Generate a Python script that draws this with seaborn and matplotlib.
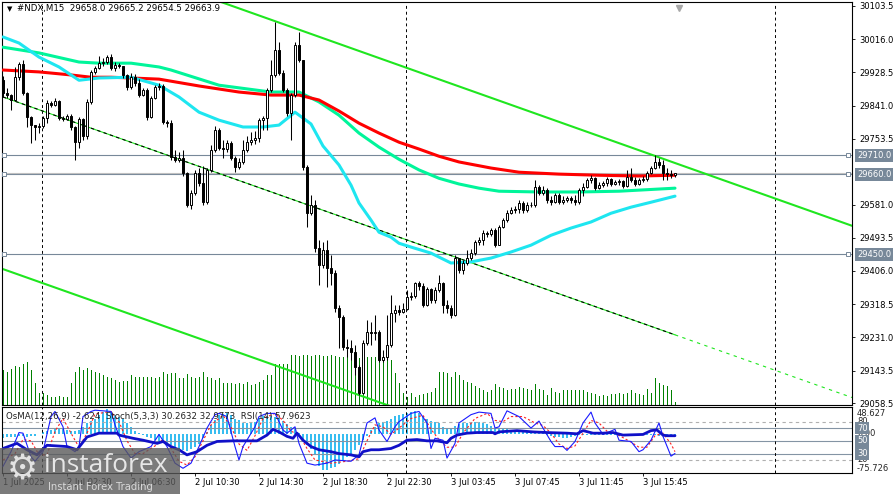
import matplotlib
matplotlib.use("Agg")
import matplotlib.pyplot as plt
import matplotlib.transforms as mtransforms
from matplotlib.patches import Rectangle
import numpy as np
import seaborn as sns

# ---------------- data ----------------
first_open = 29908.0
close = [29874, 29869, 29856, 29916, 29951, 29874, 29811, 29790, 29785, 29787,
         29808, 29848, 29843, 29853, 29808, 29806, 29814, 29785, 29745, 29806,
         29761, 29851, 29930, 29940, 29953, 29956, 29969, 29940, 29948, 29945,
         29922, 29890, 29916, 29900, 29869, 29882, 29811, 29861, 29890, 29893,
         29798, 29795, 29706, 29698, 29703, 29664, 29579, 29611, 29664, 29637,
         29587, 29672, 29724, 29777, 29729, 29727, 29743, 29703, 29679, 29693,
         29724, 29745, 29750, 29756, 29803, 29808, 29882, 29922, 29987, 29927,
         29882, 29822, 29869, 30001, 29961, 29679, 29558, 29579, 29466, 29422,
         29461, 29414, 29400, 29308, 29285, 29206, 29204, 29193, 29153, 29085,
         29216, 29245, 29243, 29245, 29172, 29179, 29211, 29295, 29303, 29298,
         29306, 29337, 29340, 29374, 29366, 29316, 29358, 29329, 29356, 29374,
         29316, 29308, 29290, 29440, 29408, 29427, 29440, 29453, 29482, 29487,
         29506, 29503, 29514, 29474, 29522, 29540, 29558, 29566, 29568, 29585,
         29566, 29579, 29581, 29627, 29611, 29619, 29593, 29587, 29606, 29587,
         29593, 29598, 29593, 29587, 29619, 29627, 29645, 29650, 29624, 29632,
         29637, 29648, 29635, 29640, 29643, 29629, 29653, 29645, 29635, 29645,
         29648, 29664, 29677, 29693, 29685, 29664, 29662, 29658, 29663.9]
high = [29919, 29887, 29872, 29943, 29956, 29961, 29877, 29814, 29790, 29795,
        29814, 29856, 29853, 29861, 29856, 29814, 29819, 29819, 29787, 29811,
        29808, 29858, 29935, 29945, 29972, 29966, 29974, 29977, 29956, 29953,
        29945, 29924, 29927, 29924, 29911, 29887, 29887, 29866, 29895, 29900,
        29898, 29803, 29803, 29724, 29719, 29724, 29666, 29619, 29672, 29677,
        29682, 29677, 29737, 29787, 29782, 29750, 29750, 29748, 29708, 29703,
        29750, 29761, 29772, 29774, 29808, 29814, 29887, 29961, 30061, 30009,
        29935, 29887, 29874, 30009, 30035, 29961, 29685, 29606, 29593, 29487,
        29482, 29487, 29448, 29408, 29316, 29290, 29227, 29224, 29211, 29158,
        29224, 29277, 29272, 29290, 29250, 29198, 29290, 29343, 29316, 29316,
        29322, 29356, 29350, 29377, 29379, 29374, 29364, 29361, 29364, 29395,
        29377, 29329, 29316, 29448, 29440, 29435, 29461, 29464, 29487, 29495,
        29514, 29511, 29519, 29519, 29527, 29545, 29566, 29574, 29577, 29593,
        29590, 29587, 29587, 29645, 29632, 29629, 29624, 29603, 29611, 29611,
        29603, 29603, 29603, 29606, 29624, 29637, 29650, 29658, 29653, 29640,
        29643, 29653, 29650, 29645, 29648, 29645, 29672, 29677, 29653, 29650,
        29656, 29669, 29682, 29711, 29703, 29698, 29677, 29672, 29665.2]
low = [29864, 29861, 29829, 29853, 29908, 29869, 29785, 29743, 29750, 29769,
       29782, 29795, 29837, 29840, 29803, 29800, 29803, 29777, 29698, 29729,
       29750, 29753, 29845, 29924, 29937, 29945, 29951, 29935, 29932, 29940,
       29914, 29882, 29885, 29893, 29864, 29866, 29803, 29808, 29858, 29882,
       29793, 29785, 29698, 29693, 29693, 29656, 29574, 29569, 29606, 29629,
       29579, 29582, 29666, 29719, 29724, 29703, 29719, 29698, 29666, 29674,
       29687, 29719, 29737, 29740, 29745, 29777, 29777, 29877, 29916, 29922,
       29877, 29814, 29750, 29864, 29956, 29672, 29522, 29553, 29456, 29369,
       29414, 29364, 29369, 29298, 29203, 29198, 29179, 29172, 29132, 29079,
       29082, 29211, 29211, 29224, 29166, 29166, 29172, 29206, 29272, 29290,
       29295, 29303, 29329, 29335, 29356, 29311, 29314, 29322, 29322, 29350,
       29295, 29295, 29282, 29287, 29400, 29398, 29422, 29435, 29448, 29474,
       29474, 29495, 29498, 29469, 29474, 29519, 29535, 29556, 29558, 29558,
       29558, 29561, 29574, 29574, 29606, 29606, 29585, 29579, 29585, 29582,
       29582, 29587, 29585, 29579, 29582, 29603, 29624, 29637, 29619, 29622,
       29627, 29629, 29629, 29632, 29632, 29624, 29627, 29640, 29629, 29632,
       29640, 29643, 29661, 29674, 29677, 29645, 29645, 29650, 29654.5]
volume = [1400, 1320, 1440, 1560, 1520, 1640, 1720, 1400, 880, 480,
          480, 400, 320, 320, 360, 320, 320, 880, 1320, 1520,
          1400, 1480, 1400, 1320, 1280, 1200, 1120, 1080, 1000, 920,
          960, 960, 1200, 1120, 1120, 1120, 1120, 1120, 1080, 1120,
          1320, 1240, 1280, 1280, 1080, 1080, 1240, 1120, 1080, 1120,
          1320, 1120, 1080, 1000, 1080, 880, 880, 880, 840, 880,
          840, 920, 800, 840, 920, 1000, 1200, 1200, 1640, 1640,
          1640, 1640, 2000, 2000, 1960, 2000, 2000, 1960, 2000, 2000,
          1960, 1960, 2000, 1960, 1920, 1920, 1960, 1920, 1920, 1880,
          1920, 1920, 1920, 1920, 1920, 1920, 1880, 1800, 1280, 880,
          480, 320, 480, 320, 400, 440, 480, 520, 680, 1320,
          1320, 1280, 1120, 1320, 1200, 1000, 920, 880, 760, 680,
          600, 520, 600, 840, 720, 680, 600, 640, 640, 720,
          680, 640, 600, 840, 640, 600, 400, 680, 520, 480,
          600, 600, 600, 600, 600, 600, 520, 480, 440, 360,
          400, 360, 440, 440, 480, 440, 480, 600, 480, 440,
          400, 640, 480, 1080, 880, 800, 760, 600, 120]

red_bar = [0, 9, 17, 22, 27, 32, 39, 49, 59, 67, 74, 79, 84, 89, 94, 99, 104, 109, 114, 122, 129, 139, 149, 159, 168]
red_val = [29935, 29930, 29922, 29916, 29916, 29914, 29911, 29893, 29877, 29869, 29869, 29856, 29827, 29795, 29769,
           29745, 29727, 29708, 29693, 29677, 29666, 29661, 29658, 29656, 29658]
green_bar = [0, 9, 19, 24, 32, 39, 42, 54, 67, 74, 79, 84, 89, 94, 99, 104, 109, 114, 119, 124, 134, 144, 154, 168]
green_val = [29995, 29980, 29956, 29953, 29953, 29943, 29935, 29895, 29877, 29877, 29851, 29816, 29769, 29732,
             29700, 29672, 29650, 29635, 29624, 29616, 29614, 29614, 29616, 29624]
cyan_bar = [0, 4, 9, 14, 19, 24, 32, 39, 44, 49, 54, 60, 65, 69, 73, 77, 80, 84, 87, 89, 92, 94, 97, 99, 102,
            107, 112, 117, 122, 127, 132, 137, 142, 147, 152, 157, 162, 168]
cyan_val = [30022, 30006, 29969, 29943, 29908, 29914, 29916, 29895, 29864, 29824, 29803, 29785, 29785, 29790, 29824,
            29793, 29735, 29685, 29632, 29585, 29540, 29508, 29495, 29479, 29469, 29453, 29427, 29430, 29440, 29456,
            29474, 29500, 29519, 29535, 29558, 29574, 29587, 29603]

upper_bar = [54.5, 212.25]
upper_val = [30114, 29525]
mid_bar = [0, 168]
mid_val = [29864, 29238]
mid_ext_bar = [168, 212.25]
mid_ext_val = [29238, 29073]
lower_bar = [0, 102]
lower_val = [29411, 29031]

level_prices = [29710.0, 29660.0, 29450.0]
bid_price = 29663.9
separator_bars = [9.75, 100.75, 193.0]

price_ticks = [30103.5, 30016.0, 29928.5, 29841.0, 29753.5, 29581.0, 29493.5, 29406.0, 29318.5, 29231.0,
               29143.5, 29058.5]
time_bars = [0, 16, 32, 48, 64, 80, 96, 112, 128, 144, 160]
time_labels = ["1 Jul 2025", "2 Jul 02:30", "2 Jul 06:30", "2 Jul 10:30", "2 Jul 14:30", "2 Jul 18:30",
               "2 Jul 22:30", "3 Jul 03:45", "3 Jul 07:45", "3 Jul 11:45", "3 Jul 15:45"]

osma = [-8, -6, -6, -5, -4, -4, -5, -4, -3, 0,
        4, 6, 8, 9, 11, 10, 7, 5, 5, 8,
        14, 22, 26, 30, 37, 43, 48, 43, 37, 33,
        30, 22, 14, 5, 1, -2, -5, -8, -12, -14,
        -15, -18, -21, -25, -30, -32, -33, -30, -25, -20,
        -8, 4, 18, 27, 37, 39, 40, 36, 30, 27,
        22, 21, 22, 24, 31, 34, 35, 34, 33, 31,
        26, 19, 13, 9, 1, -12, -22, -30, -41, -62,
        -70, -70, -66, -64, -58, -51, -45, -38, -31, -22,
        -12, -3, 8, 14, 21, 23, 26, 30, 34, 37,
        39, 41, 43, 45, 41, 35, 29, 26, 24, 21,
        14, 11, 12, 16, 19, 21, 22, 23, 24, 23,
        22, 19, 15, 12, 11, 11, 9, 8, 6, 6,
        6, 4, 4, 3, 2, 1, -2, -4, -5, -6,
        -8, -7, -5, -4, -2, -1, -1, -1, -1, -1,
        -2, -2, -2, -2, -3, -3, -3, -3, -3, -2,
        -1, -1, -1, -2, -3, -4, -4, -3, -2.624]
rsi_bar = [0, 3.5, 6, 8.5, 11, 16, 18.5, 21, 24, 28.5, 29, 32.5, 35, 38.5, 40, 42, 44, 46, 48.5, 51,
           53.5, 57.5, 62, 63.5, 66, 67.5, 69, 71, 72.5, 73.5, 75, 77, 79, 82, 84, 87, 89, 90, 92, 94,
           97, 99, 101, 103.5, 106, 108.5, 111, 112, 113.5, 116, 118.5, 122.5, 123, 124, 128.5, 132.5,
           136, 141, 143.5, 145, 147.5, 150, 152.5, 155, 160, 162, 163.5, 165, 166, 168]
rsi_val = [38, 46, 36, 28, 43, 41, 36, 56, 62, 62, 59, 54, 51, 46, 49, 41, 36, 28, 33, 43,
           49, 50, 50, 50, 59, 68, 64, 57, 54, 62, 51, 41, 36, 33, 30, 28, 25, 33, 36, 36,
           38, 43, 51, 52, 50, 50, 47, 54, 59, 62, 63, 63, 61, 64, 66, 64,
           63, 62, 61, 66, 62, 62, 63, 59, 60, 66, 67, 59, 58, 57.96]
st_bar = [0, 2, 4, 5, 7, 8, 10, 12, 13, 15, 16, 18, 19, 20, 22, 23, 27, 28, 30, 32, 34, 37, 39, 41, 43,
          45, 47, 49, 51, 53, 54, 56, 58, 59, 60, 63, 64, 66, 68, 70, 71, 73, 74, 76, 78, 81, 83, 87, 89,
          91, 93, 94, 96, 98, 99, 102, 104, 106, 107, 108, 110, 111, 113, 114, 117, 119, 122, 123, 124,
          126, 129, 132, 134, 135, 137, 138, 140, 141, 143, 145, 147, 148, 150, 153, 154, 157, 159, 160,
          162, 164, 165, 167, 168]
st_val = [10, 33, 63, 62, 25, 18, 33, 88, 96, 72, 41, 33, 41, 88, 96, 98, 96, 75, 41, 23, 33, 41, 60, 41, 15,
          7, 15, 41, 70, 91, 93, 88, 41, 20, 41, 72, 88, 93, 93, 67, 62, 72, 46, 15, 12, 15, 20, 18, 28,
          78, 86, 67, 49, 72, 80, 93, 96, 78, 38, 54, 51, 23, 46, 78, 91, 95, 93, 70, 72,
          97, 88, 70, 81, 70, 49, 41, 41, 35, 49, 78, 95, 78, 60, 68, 51, 49, 33, 36,
          51, 78, 57, 26, 30.26]
sg_bar = [0, 3, 5, 7, 9, 11, 13, 15, 17, 19, 21, 23, 27, 29, 31, 33, 35, 38, 40, 42, 44, 46, 48, 50, 52,
          55, 57, 59, 61, 63, 65, 68, 70, 72, 74, 76, 78, 82, 86, 89, 91, 93, 95, 97, 99, 102, 105, 107,
          109, 111, 113, 115, 118, 121, 123, 125, 127, 130, 133, 135, 137, 139, 141, 143, 145, 147, 149,
          151, 153, 155, 157, 159, 161, 163, 165, 167, 168]
sg_val = [20, 30, 52, 50, 28, 28, 65, 85, 62, 40, 62, 92, 96, 80, 50, 30, 30, 42, 52, 38, 18, 12, 25, 50, 75,
          90, 72, 45, 35, 58, 85, 93, 82, 65, 60, 38, 20, 15, 18, 22, 50, 75, 72, 60, 70, 85, 90, 68,
          52, 40, 40, 62, 85, 93, 82, 80, 88, 88, 78, 74, 62, 45, 38, 42, 62, 82, 78,
          65, 62, 55, 48, 40, 40, 58, 62, 45, 32.98]

# ---------------- styling ----------------
sns.set_theme(style="white")
plt.rcParams['font.family'] = ['DejaVu Sans']

W, H = 893, 494
fig = plt.figure(figsize=(W / 100, H / 100), dpi=100)
fig.patch.set_facecolor('white')


def rect(x0, y0, x1, y1):
    return [x0 / W, 1 - y1 / H, (x1 - x0) / W, (y1 - y0) / H]


XLIM = (-0.25, 212.25)
ax = fig.add_axes(rect(2, 2, 852, 405))
axs = fig.add_axes(rect(2, 407, 852, 473))
axo = axs.twinx()
axo.set_zorder(axs.get_zorder() - 1)
axs.patch.set_visible(False)
axo.patch.set_facecolor('white')

GREEN = '#1fe61f'
SLATE = '#778899'

# ---- main window ----
n = len(close)
x = np.arange(n)
c = np.array(close, dtype=float)
o = np.array([first_open] + close[:-1], dtype=float)

# volume
vtr = mtransforms.blended_transform_factory(ax.transData, ax.transAxes)
ax.vlines(x, 0, np.array(volume) / 16120.0, transform=vtr, colors='#008000', linewidth=0.72,
          antialiased=False, zorder=1)

# horizontal levels
for lv in level_prices:
    ax.axhline(lv, color=SLATE, lw=0.8, zorder=2)
ax.axhline(bid_price, color='#c0c0c0', lw=0.8, zorder=2)
for lv in level_prices:
    ax.plot([0.25, 211.25], [lv, lv], 's', ms=3.2, mfc='white', mec=SLATE, mew=0.7, zorder=6, clip_on=False)

# period separators
for b in separator_bars:
    ax.axvline(b, color='black', lw=0.7, ls=(0, (3, 3)), zorder=2)
    axs.axvline(b, color='black', lw=0.7, ls=(0, (3, 3)), zorder=2)

# channel lines
sns.lineplot(x=upper_bar, y=upper_val, ax=ax, color=GREEN, linewidth=1.5, estimator=None, zorder=2)
sns.lineplot(x=lower_bar, y=lower_val, ax=ax, color=GREEN, linewidth=1.5, estimator=None, zorder=2)
sns.lineplot(x=mid_bar, y=mid_val, ax=ax, color=GREEN, linewidth=0.8, estimator=None, zorder=2)
ax.plot(mid_bar, mid_val, color='black', lw=0.8, ls=(0, (3, 3)), zorder=2)
ax.plot(mid_ext_bar, mid_ext_val, color=GREEN, lw=0.8, ls=(0, (3, 4)), zorder=2)

# moving averages
sns.lineplot(x=green_bar, y=green_val, ax=ax, color='#00f59a', linewidth=2.2, estimator=None, zorder=3)
sns.lineplot(x=red_bar, y=red_val, ax=ax, color='#ff0000', linewidth=2.2, estimator=None, zorder=3)
sns.lineplot(x=cyan_bar, y=cyan_val, ax=ax, color='#1ee6f0', linewidth=2.2, estimator=None, zorder=3)

# candles
ax.vlines(x, low, high, colors='black', linewidth=0.75, zorder=4)
bottom = np.minimum(o, c)
height = np.maximum(np.abs(c - o), 0.5)
cols = ['white' if cc >= oo else 'black' for oo, cc in zip(o, c)]
ax.bar(x, height, bottom=bottom, width=0.55, color=cols, edgecolor='black', linewidth=0.7, zorder=5)

ax.set_xlim(*XLIM)
ax.set_ylim(29053.3, 30114.0)
ax.set_xlabel('')
ax.set_ylabel('')
ax.set_xticks([])
ax.yaxis.tick_right()
ax.set_yticks(price_ticks)
ax.set_yticklabels([f"{v:.1f}" for v in price_ticks], fontsize=6, color='black')
ax.tick_params(axis='y', which='both', right=True, left=False, length=2.5, width=0.6, pad=2.5,
               direction='out', colors='black')
for s in ax.spines.values():
    s.set_color('black')
    s.set_linewidth(0.8)

# gray shift marker
ax.plot([168.9], [0.985], marker='v', ms=5, color='#a8a8a8', transform=vtr, clip_on=False, zorder=7)

tr_main = mtransforms.blended_transform_factory(ax.transAxes, ax.transData)
for lv in level_prices:
    ax.text(1.0 + 5 / 850, lv, f"{lv:.1f}", transform=tr_main, fontsize=6, color='white', va='center',
            ha='left', clip_on=False, zorder=8,
            bbox=dict(boxstyle='square,pad=0.22', fc=SLATE, ec='none'))

# ---- indicator window ----
axo.bar(x, osma, width=0.72, color='#38bdf0', linewidth=0, edgecolor='none', zorder=1)
axo.set_ylim(-75.726, 52.4)
axo.set_yticks([])
axo.set_xlim(*XLIM)
for s in axo.spines.values():
    s.set_visible(False)

axs.axhline(80, color='#b0b0b0', lw=0.8, ls=(0, (3, 3)), zorder=1)
axs.axhline(20, color='#b0b0b0', lw=0.8, ls=(0, (3, 3)), zorder=1)
for lv in (70, 50, 30):
    axs.axhline(lv, color='#8494a4', lw=0.8, zorder=1)

sns.lineplot(x=sg_bar, y=sg_val, ax=axs, color='#ff2020', linewidth=0.8, linestyle=(0, (2, 2)),
             estimator=None, zorder=3)
sns.lineplot(x=st_bar, y=st_val, ax=axs, color='#1a1aff', linewidth=0.8, estimator=None, zorder=3)
sns.lineplot(x=rsi_bar, y=rsi_val, ax=axs, color='#1010c8', linewidth=2.0, estimator=None, zorder=4)

axs.set_xlim(*XLIM)
axs.set_ylim(-0.4, 103)
axs.set_xlabel('')
axs.set_ylabel('')
axs.set_yticks([])
axs.set_xticks(time_bars)
axs.set_xticklabels(time_labels, fontsize=6, color='black')
for lbl in axs.get_xticklabels():
    lbl.set_horizontalalignment('left')
axs.tick_params(axis='x', bottom=True, length=2, width=0.6, pad=1.5, direction='out', colors='black')
for s in axs.spines.values():
    s.set_color('black')
    s.set_linewidth(0.8)

tr_s = mtransforms.blended_transform_factory(axs.transAxes, axs.transData)
tr_o = mtransforms.blended_transform_factory(axo.transAxes, axo.transData)
lx = 1.0 + 5 / 850
axo.text(lx, 48.627, "48.627", transform=tr_o, fontsize=6, va='top', ha='left', clip_on=False)
axo.text(lx, -75.726, "-75.726", transform=tr_o, fontsize=6, va='bottom', ha='left', clip_on=False)
axo.text(lx, 0, "0.00", transform=tr_o, fontsize=6, va='center', ha='left', clip_on=False)
axs.text(lx, 80, "80", transform=tr_s, fontsize=6, va='center', ha='left', clip_on=False)
axs.text(lx, 20, "20", transform=tr_s, fontsize=6, va='center', ha='left', clip_on=False)
for lv in (70, 50, 30):
    axs.text(lx, lv, str(lv), transform=tr_s, fontsize=6, color='white', va='center', ha='left',
             clip_on=False, zorder=9, bbox=dict(boxstyle='square,pad=0.2', fc=SLATE, ec='none'))

# ---- header texts ----
fig.text(7 / W, 1 - 9 / H, '\u25BC', fontsize=5, va='center', ha='left', color='black')
fig.text(17 / W, 1 - 9 / H, '#NDX,M15  29658.0 29665.2 29654.5 29663.9', fontsize=6.2, va='center',
         ha='left', color='black')
fig.text(6 / W, 1 - 416 / H, 'OsMA(12,26,9) -2.624  Stoch(5,3,3) 30.2632 32.9773  RSI(14) 57.9623',
         fontsize=6.2, va='center', ha='left', color='#202020')

# ---- watermark ----
fig.patches.append(Rectangle((0, 0), 180 / W, 46 / H, transform=fig.transFigure, facecolor='#5a5a5a',
                             alpha=0.8, edgecolor='none', zorder=20))
fig.text(22 / W, 1 - 469 / H, '\u2699', fontsize=25, color='#e2e2e2', ha='center', va='center', zorder=21)
fig.text(44 / W, 1 - 465 / H, 'instaforex', fontsize=19, color='#e6e6e6', fontfamily=['Open Sans', 'DejaVu Sans'],
         va='center', ha='left', zorder=21)
fig.text(48 / W, 1 - 487 / H, 'Instant Forex Trading', fontsize=7.2, color='#d8d8d8', va='center', ha='left',
         zorder=21)

fig.savefig('out.png', dpi=100, facecolor='white')
